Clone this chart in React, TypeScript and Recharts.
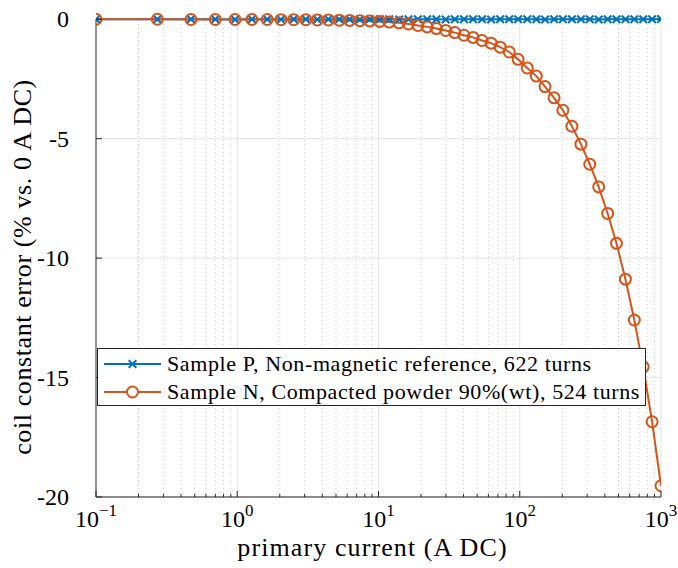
import React from "react";
import {
  LineChart,
  Line,
  XAxis,
  YAxis,
  CartesianGrid,
  ReferenceLine,
  Legend,
} from "recharts";

const FONT = '"Liberation Serif", "Times New Roman", serif';
const BLUE = "#0072BD";
const ORANGE = "#D95319";
const AXIS = "#262626";

// primary current (A DC)
const currentA = [
  0.1, 0.272, 0.47, 0.699, 0.964, 1.27, 1.63, 2.04, 2.51, 3.06, 3.69, 4.42,
  5.27, 6.24, 7.38, 8.68, 10.2, 11.9, 14.0, 16.3, 19.0, 22.1, 25.7, 29.9, 34.7,
  40.3, 46.7, 54.1, 62.7, 72.7, 84.2, 97.4, 113, 131, 151, 175, 202, 234, 271,
  313, 362, 419, 484, 560, 647, 748, 865, 1000,
];

// Sample P, non-magnetic reference (% error)
const sampleP = [
  0, 0, 0, 0, -0.01, 0, 0, -0.01, 0, 0, -0.01, 0, 0, 0, -0.01, 0, 0, 0, -0.01,
  0, 0, 0, 0, -0.01, 0, 0, 0, 0, -0.01, 0, 0, 0, 0, 0, -0.01, 0, 0, 0, 0, 0,
  -0.01, 0, 0, 0, 0, 0, 0, 0.01,
];

// Sample N, compacted powder (% error)
const sampleN = [
  0, 0, -0.01, -0.01, -0.01, -0.01, -0.01, -0.02, -0.02, -0.02, -0.03, -0.03,
  -0.04, -0.05, -0.06, -0.07, -0.09, -0.12, -0.15, -0.2, -0.26, -0.32, -0.39,
  -0.47, -0.56, -0.67, -0.76, -0.89, -1.0, -1.17, -1.37, -1.68, -2.04, -2.38,
  -2.82, -3.29, -3.81, -4.48, -5.23, -6.07, -7.02, -8.13, -9.38, -10.88,
  -12.59, -14.55, -16.85, -19.53,
];

const xMajorTicks = [0.1, 1, 10, 100, 1000];
const xTickExponents = ["\u22121", "0", "1", "2", "3"];
const xMinorTicks = [
  0.2, 0.3, 0.4, 0.5, 0.6, 0.7, 0.8, 0.9, 2, 3, 4, 5, 6, 7, 8, 9, 20, 30, 40,
  50, 60, 70, 80, 90, 200, 300, 400, 500, 600, 700, 800, 900,
];
const yTicks = [-20, -15, -10, -5, 0];

const seriesNames = [
  "Sample P, Non-magnetic reference, 622 turns",
  "Sample N, Compacted powder 90%(wt), 524 turns",
];

const data = currentA.map((c, i) => ({ current: c, p: sampleP[i], n: sampleN[i] }));
const allXTicks = [...xMajorTicks, ...xMinorTicks].sort((a, b) => a - b);

const XTick = (props: any) => {
  const { x, y, payload } = props;
  const idx = xMajorTicks.indexOf(payload.value);
  if (idx < 0) {
    return <line x1={x} x2={x} y1={y} y2={y - 3} stroke={AXIS} />;
  }
  return (
    <g>
      <line x1={x} x2={x} y1={y} y2={y - 6} stroke={AXIS} />
      <text x={x} y={y + 30} textAnchor="middle" fontFamily={FONT} fontSize={24} fill="#000">
        10
        <tspan dy={-11} fontSize={17}>
          {xTickExponents[idx]}
        </tspan>
      </text>
    </g>
  );
};

const YTick = (props: any) => {
  const { x, y, payload } = props;
  return (
    <g>
      <line x1={x} x2={x + 6} y1={y} y2={y} stroke={AXIS} />
      <text x={x - 27} y={y + 8} textAnchor="end" fontFamily={FONT} fontSize={24} fill="#000">
        {payload.value}
      </text>
    </g>
  );
};

const CrossDot = (props: any) => {
  const { cx, cy, index } = props;
  const s = 3.8;
  return (
    <path
      key={`p-${index}`}
      d={`M${cx - s},${cy - s}L${cx + s},${cy + s}M${cx - s},${cy + s}L${cx + s},${cy - s}`}
      stroke={BLUE}
      strokeWidth={2}
      fill="none"
    />
  );
};

const CircleDot = (props: any) => {
  const { cx, cy, index } = props;
  return (
    <circle key={`n-${index}`} cx={cx} cy={cy} r={5.5} stroke={ORANGE} strokeWidth={2} fill="none" />
  );
};

const YLabel = (props: any) => {
  const { viewBox } = props;
  const cy = viewBox.y + viewBox.height / 2 + 9;
  const x = viewBox.x + 31;
  return (
    <text
      x={x}
      y={cy}
      transform={`rotate(-90, ${x}, ${cy})`}
      textAnchor="middle"
      fontFamily={FONT}
      fontSize={26}
      letterSpacing={0.6}
      fill="#000"
    >
      coil constant error (% vs. 0 A DC)
    </text>
  );
};

const XLabel = (props: any) => {
  const { viewBox } = props;
  return (
    <text
      x={viewBox.x + viewBox.width / 2 - 6}
      y={viewBox.y + 59}
      textAnchor="middle"
      fontFamily={FONT}
      fontSize={26}
      letterSpacing={1.1}
      fill="#000"
    >
      primary current (A DC)
    </text>
  );
};

const renderLegend = () => (
  <div
    style={{
      width: 549,
      height: 58,
      boxSizing: "border-box",
      border: `1px solid ${AXIS}`,
      background: "#fff",
      fontFamily: FONT,
      fontSize: 22,
      letterSpacing: 0.6,
      color: "#000",
      paddingTop: 1,
    }}
  >
    {seriesNames.map((name, i) => (
      <div key={name} style={{ display: "flex", alignItems: "center", height: 28 }}>
        <svg width={69} height={20} style={{ flex: "none" }}>
          <line x1={6} x2={63} y1={10} y2={10} stroke={i === 0 ? BLUE : ORANGE} strokeWidth={2} />
          {i === 0 ? (
            <path d="M30.7,6.2L38.3,13.8M30.7,13.8L38.3,6.2" stroke={BLUE} strokeWidth={2} />
          ) : (
            <circle cx={34.5} cy={10} r={5.5} stroke={ORANGE} strokeWidth={2} fill="#fff" />
          )}
        </svg>
        <span style={{ whiteSpace: "nowrap" }}>{name}</span>
      </div>
    ))}
  </div>
);

export default function App() {
  return (
    <div style={{ position: "absolute", left: 0, top: 0, background: "#fff" }}>
      <LineChart
        width={678}
        height={568}
        data={data}
        margin={{ top: 19, right: 17, bottom: 0, left: 0 }}
      >
        <CartesianGrid vertical={false} stroke="#e3e3e3" strokeWidth={1} />
        {xMinorTicks.map((v) => (
          <ReferenceLine key={`m-${v}`} x={v} stroke="#cfcfcf" strokeDasharray="1 3" strokeWidth={1} />
        ))}
        {xMajorTicks.slice(1).map((v) => (
          <ReferenceLine key={`M-${v}`} x={v} stroke="#e3e3e3" strokeWidth={1} />
        ))}
        <XAxis
          dataKey="current"
          type="number"
          scale="log"
          domain={[0.1, 1000]}
          ticks={allXTicks}
          interval={0}
          height={71}
          tickSize={0}
          tickMargin={0}
          tickLine={false}
          tick={<XTick />}
          axisLine={{ stroke: AXIS }}
          allowDataOverflow
          label={<XLabel />}
        />
        <YAxis
          type="number"
          domain={[-20, 0]}
          ticks={yTicks}
          interval={0}
          width={96}
          tickSize={0}
          tickMargin={0}
          tickLine={false}
          tick={<YTick />}
          axisLine={{ stroke: AXIS }}
          label={<YLabel />}
        />
        <Line
          dataKey="p"
          stroke={BLUE}
          strokeWidth={2}
          dot={<CrossDot />}
          activeDot={false}
          isAnimationActive={false}
        />
        <Line
          dataKey="n"
          stroke={ORANGE}
          strokeWidth={2}
          dot={<CircleDot />}
          activeDot={false}
          isAnimationActive={false}
        />
        <Legend
          layout="horizontal"
          verticalAlign="middle"
          align="center"
          content={renderLegend}
          wrapperStyle={{ left: 97, top: 348, width: 549, height: 58 }}
        />
      </LineChart>
    </div>
  );
}
